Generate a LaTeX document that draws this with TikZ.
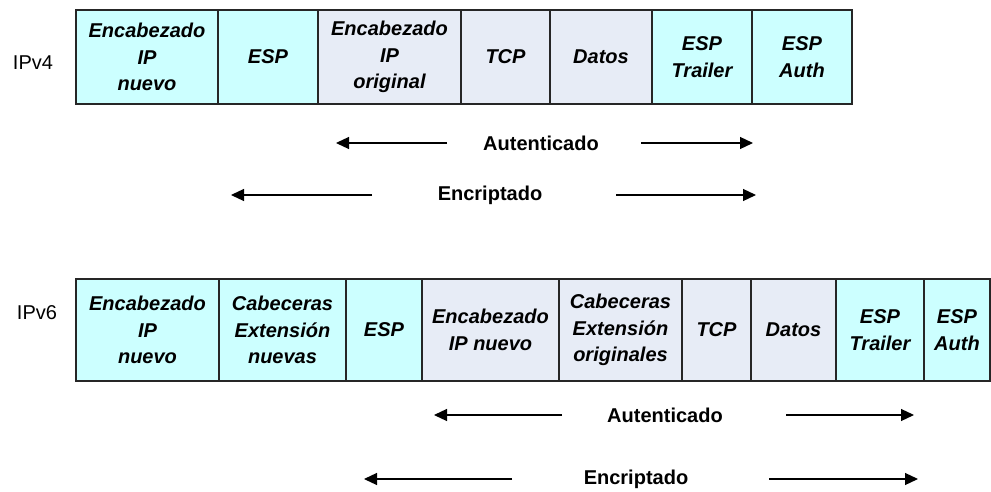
\documentclass[tikz,border=0pt]{standalone}
\usepackage{fontspec}
\setmainfont{Liberation Sans}
\usetikzlibrary{arrows.meta}
\definecolor{cellcyan}{HTML}{CCFFFF}
\definecolor{cellgray}{HTML}{E7ECF6}
\tikzset{
  cell/.style={draw=black!85, line width=1.3pt, inner sep=0pt, outer sep=0pt, align=center,
    font=\fontsize{20}{26.5}\selectfont\bfseries\itshape},
  cy/.style={cell, fill=cellcyan},
  gy/.style={cell, fill=cellgray},
  lbl/.style={font=\fontsize{20}{24}\selectfont, inner sep=0pt},
  blbl/.style={font=\fontsize{20}{24}\selectfont\bfseries, inner sep=0pt},
  arr/.style={line width=1.2pt, -{Triangle[length=13pt,width=12pt]}}
}
\newcommand{\cellat}[6]{% style, name, x1, x2, y1, y2
  \node[#1, minimum width=#4pt-#3pt, minimum height=#6pt-#5pt] (#2) at ({(#3+#4)/2},{(#5+#6)/2})}
\begin{document}
\begin{tikzpicture}[x=1pt,y=-1pt]
\useasboundingbox (0,0) rectangle (991,492);
% IPv4
\node[lbl] (ipv4) at (33,63) {IPv4};
\cellat{cy}{t1}{76}{218}{10}{104} {Encabezado\\IP\\nuevo};
\cellat{cy}{t2}{218}{318}{10}{104} {ESP};
\cellat{gy}{t3}{318}{461}{10}{104} {Encabezado\\IP\\original};
\cellat{gy}{t4}{461}{550}{10}{104} {TCP};
\cellat{gy}{t5}{550}{652}{10}{104} {Datos};
\cellat{cy}{t6}{652}{752}{10}{104} {ESP\\Trailer};
\cellat{cy}{t7}{752}{852}{10}{104} {ESP\\Auth};
\node[blbl] (auth1) at (541,143) {Autenticado};
\node[blbl] (enc1) at (490,195) {Encriptado};
\coordinate (a1s) at (447,143); \coordinate (a1e) at (336,143);
\coordinate (a2s) at (641,143); \coordinate (a2e) at (753,143);
\coordinate (e1s) at (372,195); \coordinate (e1e) at (231,195);
\coordinate (e2s) at (616,195); \coordinate (e2e) at (756,195);
\draw[arr] (a1s) -- (a1e);
\draw[arr] (a2s) -- (a2e);
\draw[arr] (e1s) -- (e1e);
\draw[arr] (e2s) -- (e2e);
% IPv6
\node[lbl] (ipv6) at (37,313) {IPv6};
\cellat{cy}{b1}{76}{219}{279}{381} {Encabezado\\IP\\nuevo};
\cellat{cy}{b2}{219}{346}{279}{381} {Cabeceras\\Extensión\\nuevas};
\cellat{cy}{b3}{346}{422}{279}{381} {ESP};
\cellat{gy}{b4}{422}{559}{279}{381} {Encabezado\\IP nuevo};
\cellat{gy}{b5}{559}{682}{279}{381} {Cabeceras\\Extensión\\originales};
\cellat{gy}{b6}{682}{751}{279}{381} {TCP};
\cellat{gy}{b7}{751}{836}{279}{381} {Datos};
\cellat{cy}{b8}{836}{924}{279}{381} {ESP\\Trailer};
\cellat{cy}{b9}{924}{990}{279}{381} {ESP\\Auth};
\node[blbl] (auth2) at (665,415) {Autenticado};
\node[blbl] (enc2) at (636,479) {Encriptado};
\coordinate (a3s) at (562,415); \coordinate (a3e) at (434,415);
\coordinate (a4s) at (786,415); \coordinate (a4e) at (914,415);
\coordinate (e3s) at (512,479); \coordinate (e3e) at (364,479);
\coordinate (e4s) at (769,479); \coordinate (e4e) at (918,479);
\draw[arr] (a3s) -- (a3e);
\draw[arr] (a4s) -- (a4e);
\draw[arr] (e3s) -- (e3e);
\draw[arr] (e4s) -- (e4e);
\end{tikzpicture}
\end{document}
